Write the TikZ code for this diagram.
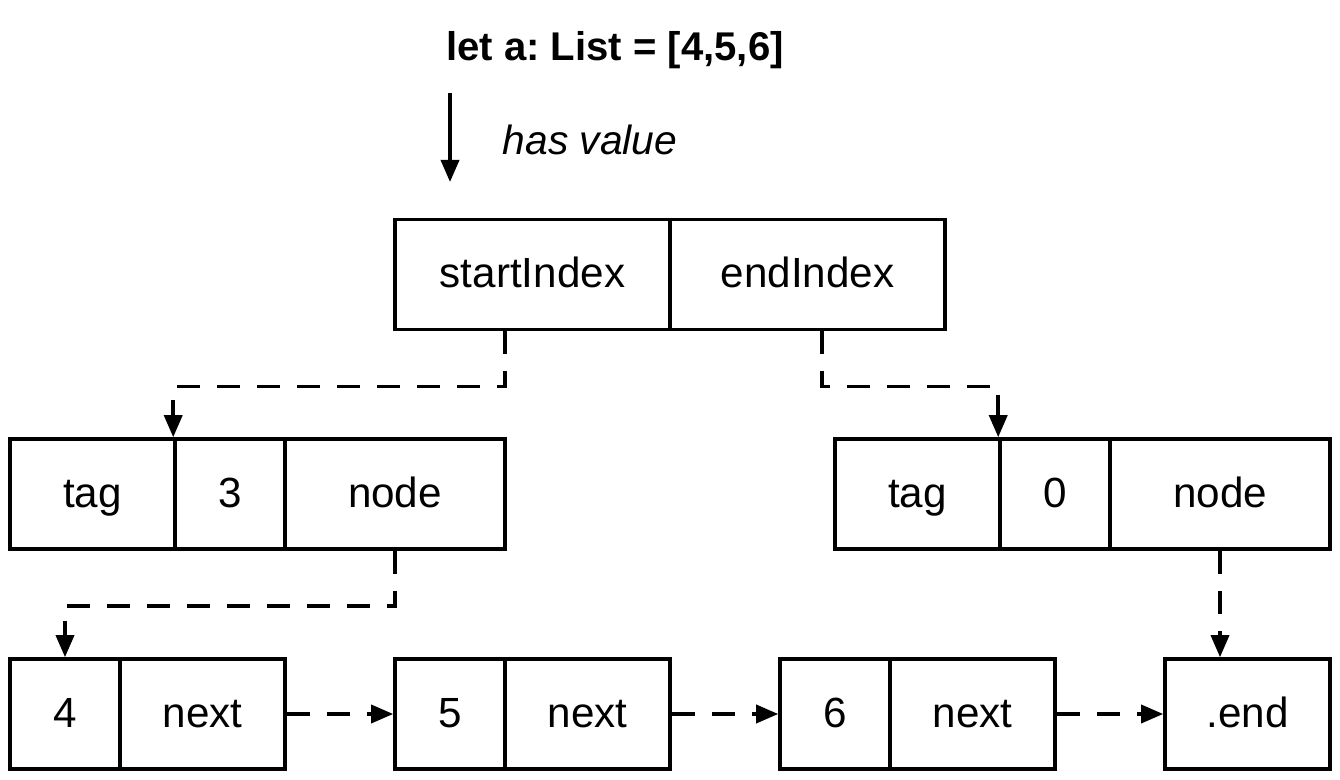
\documentclass[tikz,border=0pt]{standalone}
\usepackage{fontspec}
\setmainfont{Liberation Sans}
\usepackage{tikz}
\usetikzlibrary{arrows.meta}
\frenchspacing
\tikzstyle{cell} = [draw=black, line width=1pt, minimum height=1.1cm, inner sep=0pt, text height=1.7ex, text depth=0.3ex, font={\fontsize{12}{14}\selectfont}]
\tikzstyle{wide} = [cell, minimum width=2.75cm]
\tikzstyle{field} = [cell, minimum width=2.2cm]
\tikzstyle{mid} = [cell, minimum width=1.65cm]
\tikzstyle{narrow} = [cell, minimum width=1.1cm]
\tikzstyle{link} = [line width=1pt, dash pattern=on 0.23cm off 0.17cm, -{Triangle[length=0.22cm, width=0.18cm]}]
\tikzstyle{value} = [line width=1pt, -{Triangle[length=0.22cm, width=0.18cm]}]

\begin{document}
\begin{tikzpicture}[x=0.01cm, y=-0.01cm]
  \useasboundingbox (0,0) rectangle (1340,780);
  \node[font={\fontsize{11.4}{14}\selectfont\bfseries}](title) at (615,50){let a: List = [4,5,6]};
  \node[font={\fontsize{11.6}{14}\selectfont\itshape}](hv) at (590,140){has value};
  \coordinate (vtop) at (450,93);
  % list header
  \node[wide](si) at (532.5,274.5){startIndex};
  \node[wide](ei) at (807.5,274.5){endIndex};
  % start index
  \node[mid](lt) at (92.5,494){tag};
  \node[narrow](lv) at (230,494){3};
  \node[field](ln) at (395,494){node};
  % end index
  \node[mid](rt) at (917.5,494){tag};
  \node[narrow](rv) at (1055,494){0};
  \node[field](rn) at (1220,494){node};
  % nodes
  \node[narrow](v1) at (65,714){4};
  \node[mid](n1) at (202.5,714){next};
  \node[narrow](v2) at (450,714){5};
  \node[mid](n2) at (587.5,714){next};
  \node[narrow](v3) at (835,714){6};
  \node[mid](n3) at (972.5,714){next};
  \node[mid](end) at (1247.5,714){.end};
  \draw[value](vtop) -- ++(0,89);
  \draw[link]([xshift=-0.275cm]si.south) -- ++(0,55) -| (lv.north west);
  \draw[link]([xshift=0.145cm]ei.south) -- ++(0,55) -| (rv.north west);
  \draw[link](ln.south) -- ++(0,55) -| (v1.north);
  \draw[link](rn.south) -- (rn.south |- end.north);
  \draw[link](n1.east) -- (v2.west);
  \draw[link](n2.east) -- (v3.west);
  \draw[link](n3.east) -- (end.west);
\end{tikzpicture}
\end{document}
